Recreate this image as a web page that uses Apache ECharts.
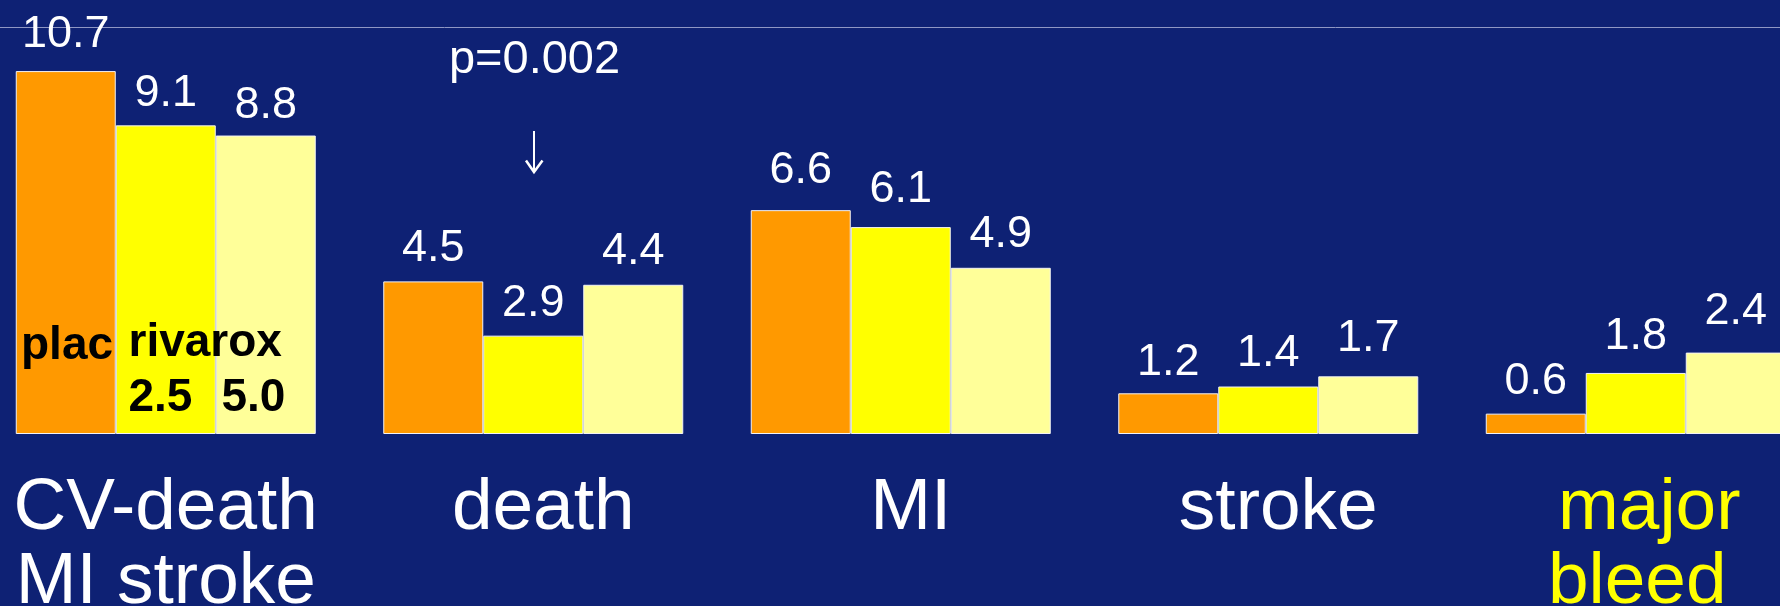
<!DOCTYPE html>
<html>
<head>
<meta charset="utf-8">
<title>Rivaroxaban outcomes</title>
<script src="https://cdn.jsdelivr.net/npm/echarts@6/dist/echarts.min.js"></script>
<style>
  html, body { margin: 0; padding: 0; background: #0e2174; }
  #chart { width: 1780px; height: 606px; }
</style>
</head>
<body>
<div id="chart"></div>
<script>
// Event rates (%) per outcome and treatment arm
const categories = ['CV-death\nMI stroke', 'death', 'MI', 'stroke', 'major\nbleed'];
const placebo    = [10.7, 4.5, 6.6, 1.2, 0.6];
const rivarox25  = [9.1, 2.9, 6.1, 1.4, 1.8];
const rivarox50  = [8.8, 4.4, 4.9, 1.7, 2.4];
const yMax = 12;

// Space (px) between each value label's baseline and its bar top
const labelGaps = [
  [22.5, 19.5, 26, 17, 19],
  [18.3, 18.5, 24, 19, 22.5],
  [16.3, 19.5, 19.5, 24, 28]
];

const FONT = '"Liberation Sans", Arial, Helvetica, sans-serif';
const BAR_W = 100;

function withLabels(values, gaps) {
  return values.map((v, i) => ({
    value: v,
    label: { distance: gaps[i] - 9.5 }
  }));
}

function barSeries(name, values, gaps, color) {
  return {
    name: name,
    type: 'bar',
    barWidth: BAR_W,
    barGap: '0%',
    data: withLabels(values, gaps),
    itemStyle: { color: color, borderColor: '#f2f2f6', borderWidth: 1 },
    label: {
      show: true,
      position: 'top',
      color: '#ffffff',
      fontFamily: FONT,
      fontSize: 45,
      lineHeight: 46,
      formatter: p => p.value.toFixed(1)
    }
  };
}

const chart = echarts.init(document.getElementById('chart'), null, { renderer: 'canvas' });

const boldText = (text, x, y) => ({
  type: 'text',
  x: x, y: y,
  z: 100,
  style: {
    text: text,
    fill: '#000000',
    font: 'bold 46px ' + FONT,
    verticalAlign: 'middle',
    align: 'left'
  }
});

const catStyle = (color, padLeft) => ({
  color: color, fontFamily: FONT, fontSize: 73, lineHeight: 74, padding: [0, 0, 0, padLeft]
});

chart.setOption({
  animation: false,
  backgroundColor: '#0e2174',
  grid: {
    left: -18, right: -39.5, top: 27, bottom: 172,
    containLabel: false,
    outerBoundsMode: 'none'
  },
  xAxis: {
    type: 'category',
    data: categories,
    axisLine: { show: false },
    axisTick: { show: false },
    axisLabel: {
      interval: 0,
      margin: 38,
      formatter: (value, idx) => {
        const lines = value.split('\n');
        if (idx === 0) return lines.map(l => '{w|' + l + '}').join('\n');
        if (idx === 4) return '{y1|' + lines[0] + '}\n{y2|' + lines[1] + '}';
        return '{s|' + value + '}';
      },
      rich: {
        w:  catStyle('#ffffff', 0),
        s:  catStyle('#ffffff', 20),
        y1: catStyle('#ffff00', 27),
        y2: catStyle('#ffff00', 3)
      }
    }
  },
  yAxis: {
    type: 'value',
    min: 0,
    max: yMax,
    interval: yMax,
    axisLine: { show: false },
    axisTick: { show: false },
    axisLabel: { show: false },
    splitLine: { show: true, lineStyle: { color: ['rgba(0,0,0,0)', '#8f97c4'], width: 1 } }
  },
  series: [
    barSeries('plac', placebo, labelGaps[0], '#ff9900'),
    barSeries('rivarox 2.5', rivarox25, labelGaps[1], '#ffff00'),
    barSeries('rivarox 5.0', rivarox50, labelGaps[2], '#ffff99')
  ],
  graphic: [
    // arm names written inside the first group of bars
    boldText('plac', 21, 346.5),
    boldText('rivarox', 128.5, 343),
    boldText('2.5', 128.5, 398),
    boldText('5.0', 221.5, 398),
    // significance note over the death group
    {
      type: 'text',
      x: 534.5, y: 60,
      z: 100,
      style: {
        text: 'p=0.002',
        fill: '#ffffff',
        font: '47px ' + FONT,
        align: 'center',
        verticalAlign: 'middle'
      }
    },
    {
      type: 'line',
      z: 100,
      shape: { x1: 534, y1: 131, x2: 534, y2: 171 },
      style: { stroke: '#ffffff', lineWidth: 2 }
    },
    {
      type: 'polyline',
      z: 100,
      shape: { points: [[526, 160.5], [534, 172], [542.5, 160.5]] },
      style: { stroke: '#ffffff', lineWidth: 2.5, fill: null }
    }
  ]
});
</script>
</body>
</html>
